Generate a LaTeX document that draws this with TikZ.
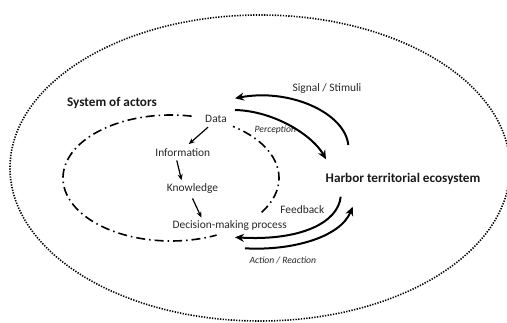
\documentclass[tikz,border=0pt]{standalone}
\usepackage{fontspec}
\setmainfont{Carlito}
\usetikzlibrary{arrows.meta,positioning}
\tikzset{
  txt/.style={text=black!85,inner sep=1pt,font=\fontsize{11.4}{13}\selectfont},
  title/.style={text=black!90,inner sep=1pt,font=\fontsize{13.2}{15}\selectfont\bfseries},
  small/.style={text=black!85,inner sep=1pt,font=\fontsize{9.6}{11}\selectfont\itshape},
  flow/.style={line width=1.2pt,-{Stealth[length=6pt,width=5pt]}},
  loop/.style={line width=2pt,-{Stealth[length=9pt,width=8pt]}},
  dashdotted/.style={line width=1.6pt,dash pattern=on 9pt off 4pt on 1.5pt off 4pt}
}
\begin{document}
\begin{tikzpicture}[x=1pt,y=1pt]
\useasboundingbox (0,0) rectangle (507,323);
\draw[line width=1.6pt,dash pattern=on 1.3pt off 1.4pt] (260,155) ellipse[x radius=250,y radius=153];
\draw[dashdotted]
  ([shift={(-33:108 and 63)}]171,145) arc[start angle=-33,end angle=55,x radius=108,y radius=63];
\draw[dashdotted]
  ([shift={(79:108 and 63)}]171,145) arc[start angle=79,end angle=295,x radius=108,y radius=63];

\node[title] (actors) at (112,220) {System of actors};
\node[title] (eco) at (403,144) {Harbor territorial ecosystem};
\node[txt] (data) at (216,203.7) {Data};
\node[txt] (info) at (182.8,170.7) {Information};
\node[txt] (know) at (192.5,134.7) {Knowledge};
\node[txt] (dec) at (229.7,97.3) {Decision-making process};
\node[txt] (signal) at (327,234.7) {Signal / Stimuli};
\node[small] (perc) at (275.3,193) {Perception};
\node[txt] (feed) at (302.3,113.7) {Feedback};
\node[small] (act) at (282.8,62.3) {Action / Reaction};

\draw[flow] ([xshift=-8pt,yshift=-3pt]data.south) -- ([xshift=6pt,yshift=3pt]info.north);
\draw[flow] ([xshift=-6pt,yshift=-3pt]info.south) -- ([xshift=-11pt,yshift=2pt]know.north);
\draw[flow] ([yshift=-4pt]know.south) -- ([xshift=30pt,yshift=2pt]dec.north west);

\coordinate (sigA) at (348.3,178);
\coordinate (sigB) at (235,224.7);
\coordinate (perA) at (235,213);
\coordinate (perB) at (326,163.7);
\coordinate (fbA) at (340.7,126.3);
\coordinate (fbB) at (235,85.7);
\coordinate (acA) at (245,74.7);
\coordinate (acB) at (352.7,116.3);
\draw[loop] (sigA) .. controls (345,210) and (290,235) .. (sigB);
\draw[loop] (perA) .. controls (275,212) and (313,187) .. (perB);
\draw[loop] (fbA) .. controls (338,100) and (300,82) .. (fbB);
\draw[loop] (acA) .. controls (290,72) and (340,85) .. (acB);
\end{tikzpicture}
\end{document}
